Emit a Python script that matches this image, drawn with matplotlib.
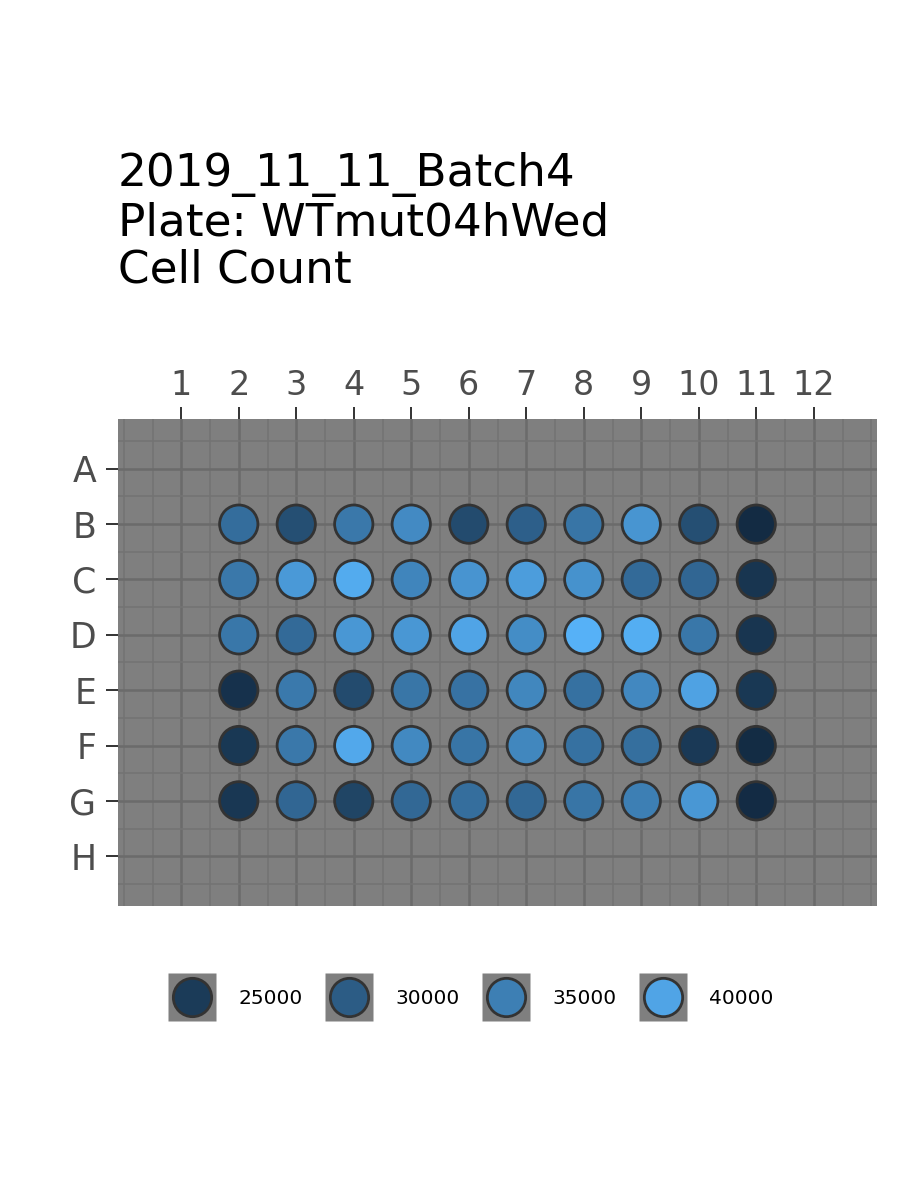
import numpy as np
import matplotlib
matplotlib.use("Agg")
import matplotlib.pyplot as plt
from matplotlib.colors import ListedColormap, Normalize
from matplotlib.lines import Line2D
from matplotlib.legend_handler import HandlerTuple
from matplotlib.ticker import MultipleLocator

# plate layout
row_labels = ["A", "B", "C", "D", "E", "F", "G", "H"]
col_labels = [str(c) for c in range(1, 13)]

# wells that hold data: rows B-G, columns 2-11
data_rows = ["B", "C", "D", "E", "F", "G"]
data_cols = [2, 3, 4, 5, 6, 7, 8, 9, 10, 11]

counts_B = [32500, 28000, 34000, 36500, 27500, 30500, 33500, 38000, 28000, 22400]
counts_C = [34000, 38500, 40800, 35800, 37800, 39000, 37500, 32000, 31500, 24000]
counts_D = [33800, 32000, 38200, 38300, 40000, 36800, 41700, 41200, 33800, 24000]
counts_E = [23500, 34200, 27500, 33700, 33200, 36000, 33000, 36200, 39700, 24500]
counts_F = [24500, 34000, 40500, 36300, 33500, 36000, 33000, 32700, 24700, 22600]
counts_G = [24300, 31500, 26500, 31800, 32600, 31700, 33500, 35000, 38200, 22500]

legend_values = [25000, 30000, 35000, 40000]

title_lines = ["2019_11_11_Batch4", "Plate: WTmut04hWed", "Cell Count"]


# ggplot style gradient, interpolated in CIE Lab
def to_lab(hexcol):
    rgb = np.array([int(hexcol[i:i + 2], 16) for i in (1, 3, 5)]) / 255.0
    lin = np.where(rgb <= 0.04045, rgb / 12.92, ((rgb + 0.055) / 1.055) ** 2.4)
    M = np.array([[0.4124, 0.3576, 0.1805],
                  [0.2126, 0.7152, 0.0722],
                  [0.0193, 0.1192, 0.9505]])
    xyz = M @ lin / np.array([0.95047, 1.0, 1.08883])
    d = 6 / 29
    f = np.where(xyz > d ** 3, np.cbrt(xyz), xyz / (3 * d * d) + 4 / 29)
    return np.array([116 * f[1] - 16, 500 * (f[0] - f[1]), 200 * (f[1] - f[2])])


def from_lab(lab):
    L, a, b = lab[:, 0], lab[:, 1], lab[:, 2]
    fy = (L + 16) / 116
    fx = fy + a / 500
    fz = fy - b / 200
    d = 6 / 29
    f = np.stack([fx, fy, fz], axis=1)
    xyz = np.where(f > d, f ** 3, 3 * d * d * (f - 4 / 29)) * np.array([0.95047, 1.0, 1.08883])
    Minv = np.array([[3.2406, -1.5372, -0.4986],
                     [-0.9689, 1.8758, 0.0415],
                     [0.0557, -0.2040, 1.0570]])
    lin = xyz @ Minv.T
    rgb = np.where(lin <= 0.0031308, 12.92 * lin, 1.055 * np.clip(lin, 0, None) ** (1 / 2.4) - 0.055)
    return np.clip(rgb, 0, 1)


lo, hi = to_lab("#132B43"), to_lab("#56B1F7")
tt = np.linspace(0, 1, 256)[:, None]
cmap = ListedColormap(from_lab(lo + (hi - lo) * tt))

counts = np.array([counts_B, counts_C, counts_D, counts_E, counts_F, counts_G])
norm = Normalize(vmin=counts.min(), vmax=counts.max())

xs, ys = np.meshgrid(data_cols, [row_labels.index(r) + 1 for r in data_rows])

fig = plt.figure(figsize=(9, 12), dpi=100)
ax = fig.add_axes([118 / 900, 1 - 906 / 1200, 759 / 900, 487 / 1200])
ax.set_facecolor("#7F7F7F")
ax.set_axisbelow(True)

ax.scatter(xs.ravel(), ys.ravel(), c=counts.ravel(), cmap=cmap, norm=norm,
           s=760, edgecolors="#333333", linewidths=2.0, zorder=3)

ax.set_xlim(-0.1, 13.1)
ax.set_ylim(8.9, 0.1)
ax.xaxis.tick_top()
ax.set_xticks(range(1, 13))
ax.set_xticklabels(col_labels)
ax.set_yticks(range(1, 9))
ax.set_yticklabels(row_labels)
ax.xaxis.set_minor_locator(MultipleLocator(0.5))
ax.yaxis.set_minor_locator(MultipleLocator(0.5))
ax.grid(which="major", color="#6B6B6B", linewidth=1.8)
ax.grid(which="minor", color="#737373", linewidth=1.1)
ax.tick_params(which="major", length=8.5, width=1.4, color="#333333",
               labelcolor="#4D4D4D", labelsize=24)
ax.tick_params(axis="x", pad=4)
ax.tick_params(axis="y", pad=7, labelsize=25)
ax.tick_params(which="minor", length=0)
for sp in ax.spines.values():
    sp.set_visible(False)

fig.text(118 / 900, 1 - 152 / 1200, "\n".join(title_lines), fontsize=32.6,
         va="top", ha="left", linespacing=1.13)

# legend: grey key square with a well circle on top
handles = []
for v in legend_values:
    bg = Line2D([], [], marker="s", markersize=34, markerfacecolor="#7F7F7F",
                markeredgecolor="none", linestyle="")
    dot = Line2D([], [], marker="o", markersize=27.6, markerfacecolor=cmap(norm(v)),
                 markeredgecolor="#333333", markeredgewidth=2.0, linestyle="")
    handles.append((bg, dot))
fig.legend(handles, [str(v) for v in legend_values], ncol=4, loc="center",
           bbox_to_anchor=(471 / 900, 1 - 999 / 1200), frameon=False, fontsize=14.5,
           handler_map={tuple: HandlerTuple(ndivide=1, pad=0)},
           handlelength=2.33, handletextpad=1.14, columnspacing=1.14)

fig.savefig("out.png", dpi=100)
